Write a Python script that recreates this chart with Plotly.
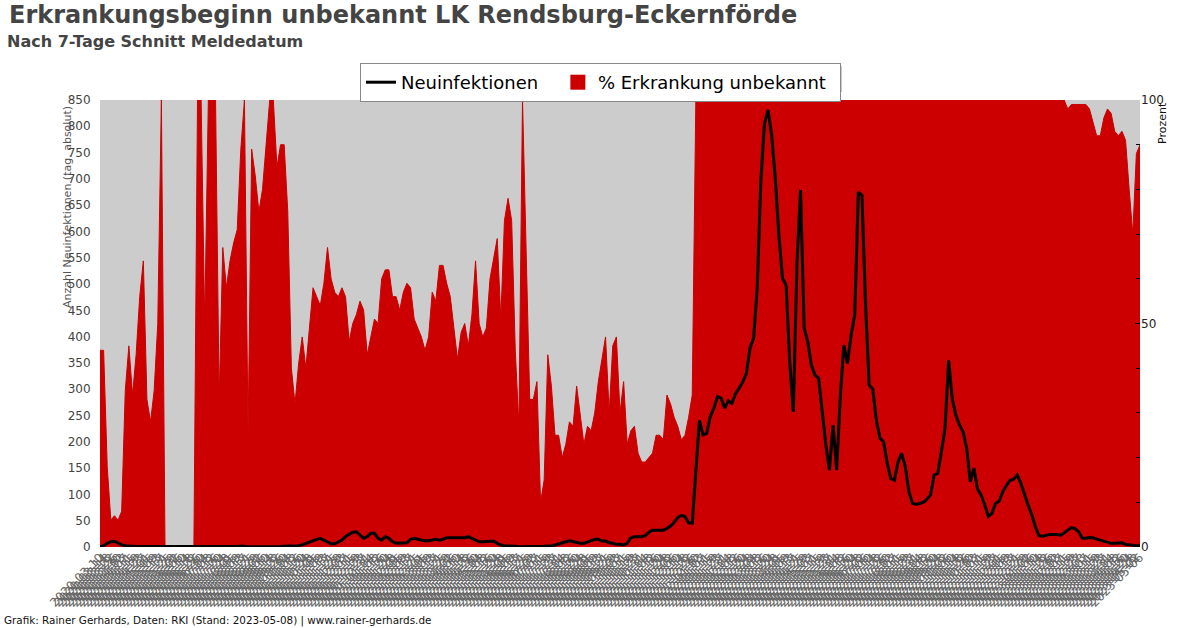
import pandas as pd
import plotly.graph_objects as go

# ---------------- data ----------------
start_date = "2020-03-10"
step_days = 4

# % Erkrankungsbeginn unbekannt (right axis, 0-100)
pct_unknown = [
    44, 44, 18, 6, 7, 6, 8, 35, 45, 34, 43, 56, 64, 33, 28, 35, 50, 100,
    0, 0, 0, 0, 0, 0, 0, 0, 0,
    100, 100, 50, 100, 100, 100,
    33, 67, 58, 64, 68, 71, 89, 100,
    25, 89, 83, 75, 80, 90, 100, 100,
    85, 90, 90, 75, 40, 32, 41, 47,
    40, 49, 58, 56, 54, 59, 67, 60,
    57, 56, 58, 56, 46, 50, 52, 55,
    53, 43, 47, 51, 50, 60, 62, 62,
    56, 56, 53, 57, 59, 58, 51, 49,
    47, 44, 47, 57, 55, 63, 63, 59,
    56, 49, 42, 48, 50, 45, 52, 64,
    50, 47, 49, 60, 65, 69, 51, 73,
    78, 73, 44, 27, 100, 67, 33, 33,
    37, 10, 15, 43, 36, 25, 25, 20,
    23, 28, 27, 36, 30, 23, 27, 26,
    30, 37, 42, 47, 30, 45, 47, 30,
    37, 23, 26, 27, 21, 19, 19, 20,
    21, 25, 25, 24, 34, 32, 29, 27,
    24, 25, 29, 34,
    100, 100, 100, 100, 100, 100, 100, 100, 100, 100,
    100, 100, 100, 100, 100, 100, 100, 100, 100, 100,
    100, 100, 100, 100, 100, 100, 100, 100, 100, 100,
    100, 100, 100, 100, 100, 100, 100, 100, 100, 100,
    100, 100, 100, 100, 100, 100, 100, 100, 100, 100,
    100, 100, 100, 100, 100, 100, 100, 100, 100, 100,
    100, 100, 100, 100, 100, 100, 100, 100, 100, 100,
    100, 100, 100, 100, 100, 100, 100, 100, 100, 100,
    100, 100, 100, 100, 100, 100, 100, 100, 100, 100,
    100, 100, 100, 100, 100, 100, 100, 100, 100, 100,
    100, 100, 100,
    98, 99, 99, 99, 99, 99, 98, 95, 92, 92, 96, 98, 97, 93, 92, 93,
    91, 80, 70, 88, 90,
]

# Neuinfektionen, 7-Tage-Schnitt (left axis, 0-850)
new_infections = [
    0.5, 2.5, 7, 10, 11, 7, 4, 2.5, 1.5, 1.5, 1, 1, 1, 1, 1, 1, 1, 1,
    0, 0, 0, 0, 0, 0, 0, 0, 0,
    1, 1, 1, 1, 1, 1, 1, 1,
    1, 1, 1, 1, 2, 1, 0.5, 0.5, 0.5, 0, 0, 0, 0, 0, 0.5, 1,
    1.5, 1.5, 1.5, 1.5,
    2.5, 4, 7, 10, 13, 14.5, 16.5, 13, 9, 6, 6, 9, 13, 20, 24, 28, 29,
    22,
    16.5, 19.6, 26, 26, 16.5, 13, 19.6, 16.5,
    10, 7, 7, 7, 8, 14.6, 16.5, 14.6,
    13, 12, 12, 13, 14.6, 13, 14.6, 17.7,
    17.7, 16.5, 16.5, 17.7, 17.7, 19.6, 16.5, 13,
    10, 10, 10, 10, 11.4, 7, 3.8, 2.5,
    2.5, 1.3, 1.3, 0.5, 0.5, 0.5, 0.5, 0.5,
    0.5, 0.6, 1.3, 2, 2, 3.8, 6.3, 8.2,
    10, 12, 10, 8.2, 7, 7, 10, 13,
    14.6, 14.6, 11.4, 11.4, 8.2, 7, 5, 5,
    3.8, 7, 17.7, 19.6, 19.6, 19.6, 21.5, 28,
    32, 32, 32, 32, 35.5, 40, 47, 56,
    60, 58, 46, 45,
    143, 241, 213, 216, 248, 264, 286, 283,
    264, 278, 273, 292, 302, 314, 330, 378,
    397, 492, 695, 805, 831, 783, 701, 593,
    511, 498, 352, 257, 539, 679, 416, 390,
    346, 327, 321, 257, 194, 146, 232, 146,
    286, 384, 349, 403, 441, 675, 669, 460,
    308, 300, 240, 207, 200, 159, 130, 127,
    162, 178, 153, 105, 83, 81, 83, 85,
    91, 99, 137, 140, 181, 225, 355, 283,
    251, 232, 219, 188, 124, 150, 110, 99,
    80, 58, 64, 83, 87, 105, 117, 127,
    129, 137, 121, 99, 80, 62, 39, 22,
    20, 22, 24, 24, 24, 22, 27, 32,
    37, 35, 29, 16.5, 16.5, 18, 17.7, 15,
    13, 10, 9, 7, 7, 8, 8, 5,
    4, 4, 2.5, 2.5,
]

title_text = "Erkrankungsbeginn unbekannt LK Rendsburg-Eckernförde"
subtitle_text = "Nach 7-Tage Schnitt Meldedatum"
footer_text = "Grafik: Rainer Gerhards, Daten: RKI (Stand: 2023-05-08) | www.rainer-gerhards.de"
left_title = "Anzahl Neuinfektionen (tag. absolut)"
right_title = "Prozent"
name_line = "Neuinfektionen"
name_area = "% Erkrankung unbekannt"

dates = pd.date_range(start_date, periods=len(pct_unknown), freq=f"{step_days}D")

# ---------------- layout helpers ----------------
W, H = 1200, 628
L, R, T, B = 100, 60, 100, 81
PW, PH = W - L - R, H - T - B


def px(xp):
    return (xp - L) / PW


def py(yp):
    return (H - B - yp) / PH


FONT = "DejaVu Sans"
RED = "#cc0000"

fig = go.Figure()
fig.add_trace(go.Scatter(
    x=dates, y=pct_unknown, name=name_area, mode="lines",
    fill="tozeroy", fillcolor=RED, line=dict(color=RED, width=1),
    yaxis="y", showlegend=False,
))
fig.add_trace(go.Scatter(
    x=dates, y=new_infections, name=name_line + "\u2002\u00a0", mode="lines",
    line=dict(color="black", width=3), yaxis="y2", legendrank=1,
))
# legend swatch for the area (square like the reference)
fig.add_trace(go.Scatter(
    x=[None], y=[None], name=name_area + "\u2002", mode="markers",
    marker=dict(symbol="square", size=15, color=RED), yaxis="y", legendrank=2,
))

fig.update_layout(
    width=W, height=H,
    margin=dict(l=L, r=R, t=T, b=B, pad=0),
    paper_bgcolor="white", plot_bgcolor="#cccccc",
    font=dict(family=FONT, size=12, color="#333"),
    showlegend=True,
    legend=dict(
        orientation="h", x=px(360), y=py(63), xanchor="left", yanchor="top",
        bgcolor="white", bordercolor="#888888", borderwidth=1,
        font=dict(family=FONT, size=18, color="black"),
    ),
    xaxis=dict(
        type="date", range=[dates[0], dates[-1]],
        tickmode="array", tickvals=list(dates), tickformat="%Y-%m-%d",
        tickangle=-45, tickfont=dict(size=12, color="#666"),
        showgrid=False, zeroline=False, ticks="", showline=False,
    ),
    yaxis=dict(
        side="right", range=[0, 100], dtick=50, tick0=0,
        ticks="inside", ticklen=5, tickcolor="black",
        minor=dict(dtick=10, ticks="inside", ticklen=4, tickcolor="black"),
        tickfont=dict(size=12, color="#222"),
        showgrid=False, zeroline=False, showline=False,
    ),
    yaxis2=dict(
        overlaying="y", side="left", range=[0, 850], dtick=50, tick0=0,
        ticks="outside", ticklen=6, tickcolor="rgba(0,0,0,0)",
        tickfont=dict(size=12, color="#444"),
        showgrid=False, zeroline=False, showline=False,
    ),
    shapes=[dict(
        type="rect", xref="paper", yref="paper",
        x0=px(364), x1=px(842), y0=py(92), y1=py(66),
        fillcolor="rgba(0,0,0,0.22)", line=dict(width=0), layer="below",
    )],
    annotations=[
        dict(text=title_text, xref="paper", yref="paper", x=px(7), y=py(15),
             xanchor="left", yanchor="middle", showarrow=False,
             font=dict(family=FONT, size=24, color="#444", weight="bold")),
        dict(text=subtitle_text, xref="paper", yref="paper", x=px(5), y=py(41),
             xanchor="left", yanchor="middle", showarrow=False,
             font=dict(family=FONT, size=16, color="#444", weight="bold")),
        dict(text=footer_text, xref="paper", yref="paper", x=px(2), y=py(620),
             xanchor="left", yanchor="middle", showarrow=False,
             font=dict(family=FONT, size=10.4, color="#111")),
        dict(text=left_title, xref="paper", yref="paper", x=px(68), y=py(207),
             xanchor="center", yanchor="middle", textangle=-90, showarrow=False,
             font=dict(family=FONT, size=11, color="#555")),
        dict(text=right_title, xref="paper", yref="paper", x=px(1162), y=py(100),
             xanchor="center", yanchor="top", textangle=-90, showarrow=False,
             font=dict(family=FONT, size=11, color="#111")),
    ],
)

fig.write_html(
    "out.html",
    config={"displayModeBar": False},
    post_script="document.body.style.margin='0';document.body.style.overflow='hidden';",
)
